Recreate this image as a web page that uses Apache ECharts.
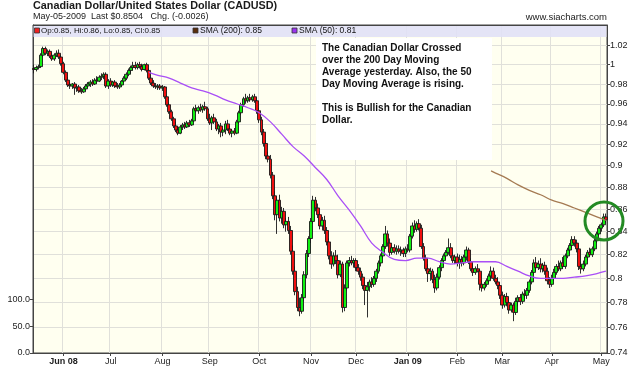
<!DOCTYPE html>
<html><head><meta charset="utf-8">
<script src="https://cdn.jsdelivr.net/npm/echarts@6/dist/echarts.min.js"></script>
<style>html,body{margin:0;padding:0;background:#fff}#c{width:640px;height:366px}</style>
</head><body><div id="c"></div>
<script>
// ---- data ----
const startDate = '2008-05-14';
const tradingDayCount = 255;
const openVals = [
0.996,0.995,0.997,0.998,1.010,1.017,1.012,1.014,1.009,1.006,
1.010,1.012,1.008,1.001,0.992,0.984,0.979,0.978,0.980,0.976,
0.977,0.973,0.972,0.975,0.978,0.980,0.982,0.980,0.984,0.983,
0.987,0.988,0.990,0.978,0.983,0.979,0.982,0.978,0.977,0.979,
0.983,0.986,0.990,0.994,0.997,0.999,0.997,1.000,0.998,0.995,
1.000,0.994,0.986,0.981,0.978,0.977,0.978,0.976,0.977,0.967,
0.959,0.952,0.945,0.938,0.934,0.931,0.937,0.939,0.937,0.941,
0.939,0.943,0.955,0.953,0.956,0.954,0.957,0.955,0.945,0.941,
0.946,0.942,0.935,0.938,0.932,0.934,0.940,0.935,0.931,0.933,
0.931,0.942,0.951,0.959,0.965,0.963,0.966,0.964,0.967,0.963,
0.953,0.944,0.932,0.921,0.909,0.906,0.891,0.872,0.855,0.868,
0.852,0.858,0.846,0.849,0.841,0.823,0.806,0.789,0.776,0.773,
0.784,0.803,0.821,0.834,0.849,0.868,0.861,0.855,0.845,0.850,
0.841,0.831,0.819,0.812,0.819,0.815,0.803,0.812,0.776,0.792,
0.813,0.815,0.813,0.815,0.809,0.806,0.801,0.794,0.790,0.793,
0.797,0.795,0.800,0.806,0.813,0.819,0.827,0.838,0.830,0.822,
0.826,0.823,0.825,0.823,0.824,0.821,0.825,0.824,0.836,0.845,
0.842,0.847,0.843,0.827,0.817,0.808,0.804,0.806,0.799,0.792,
0.801,0.809,0.815,0.819,0.822,0.826,0.819,0.815,0.818,0.813,
0.816,0.813,0.818,0.824,0.814,0.808,0.805,0.808,0.806,0.795,
0.792,0.795,0.798,0.802,0.806,0.800,0.797,0.794,0.786,0.778,
0.785,0.780,0.774,0.778,0.772,0.781,0.784,0.781,0.787,0.786,
0.790,0.797,0.805,0.813,0.809,0.812,0.808,0.811,0.806,0.798,
0.795,0.800,0.805,0.810,0.808,0.813,0.810,0.819,0.824,0.828,
0.833,0.830,0.825,0.810,0.808,0.812,0.818,0.822,0.820,0.825,
0.832,0.838,0.843,0.846,0.853];
const closeVals = [
0.995,0.997,0.998,1.010,1.017,1.012,1.014,1.009,1.006,1.010,
1.012,1.008,1.001,0.992,0.984,0.979,0.978,0.980,0.976,0.977,
0.973,0.972,0.975,0.978,0.980,0.982,0.980,0.984,0.983,0.987,
0.988,0.990,0.978,0.983,0.979,0.982,0.978,0.977,0.979,0.983,
0.986,0.990,0.994,0.997,0.999,0.997,1.000,0.998,0.995,1.000,
0.994,0.986,0.981,0.978,0.977,0.978,0.976,0.977,0.967,0.959,
0.952,0.945,0.938,0.934,0.931,0.937,0.939,0.937,0.941,0.939,
0.943,0.955,0.953,0.956,0.954,0.957,0.955,0.945,0.941,0.946,
0.942,0.935,0.938,0.932,0.934,0.940,0.935,0.931,0.933,0.931,
0.942,0.951,0.959,0.965,0.963,0.966,0.964,0.967,0.963,0.953,
0.944,0.932,0.921,0.909,0.906,0.891,0.872,0.855,0.868,0.852,
0.858,0.846,0.849,0.841,0.823,0.806,0.789,0.776,0.773,0.784,
0.803,0.821,0.834,0.849,0.868,0.861,0.855,0.845,0.850,0.841,
0.831,0.819,0.812,0.819,0.815,0.803,0.812,0.776,0.792,0.813,
0.815,0.813,0.815,0.809,0.806,0.801,0.794,0.790,0.793,0.797,
0.795,0.800,0.806,0.813,0.819,0.827,0.838,0.830,0.822,0.826,
0.823,0.825,0.823,0.824,0.821,0.825,0.824,0.836,0.845,0.842,
0.847,0.843,0.827,0.817,0.808,0.804,0.806,0.799,0.792,0.801,
0.809,0.815,0.819,0.822,0.826,0.819,0.815,0.818,0.813,0.816,
0.813,0.818,0.824,0.814,0.808,0.805,0.808,0.806,0.795,0.792,
0.795,0.798,0.802,0.806,0.800,0.797,0.794,0.786,0.778,0.785,
0.780,0.774,0.778,0.772,0.781,0.784,0.781,0.787,0.786,0.790,
0.797,0.805,0.813,0.809,0.812,0.808,0.811,0.806,0.798,0.795,
0.800,0.805,0.810,0.808,0.813,0.810,0.819,0.824,0.828,0.833,
0.830,0.825,0.810,0.808,0.812,0.818,0.822,0.820,0.825,0.832,
0.838,0.843,0.846,0.853,0.8504];
const lowVals = [
0.991,0.993,0.995,0.997,1.008,1.010,1.009,1.007,1.004,1.004,
1.008,1.006,0.999,0.990,0.982,0.977,0.975,0.975,0.969,0.972,
0.971,0.970,0.971,0.973,0.976,0.977,0.978,0.979,0.981,0.982,
0.984,0.985,0.976,0.975,0.977,0.977,0.976,0.975,0.975,0.977,
0.981,0.984,0.988,0.991,0.994,0.995,0.995,0.996,0.993,0.994,
0.992,0.984,0.979,0.976,0.975,0.974,0.974,0.973,0.965,0.957,
0.950,0.943,0.936,0.932,0.929,0.930,0.934,0.935,0.936,0.937,
0.938,0.942,0.951,0.950,0.952,0.951,0.953,0.943,0.939,0.934,
0.940,0.933,0.930,0.927,0.928,0.930,0.933,0.929,0.927,0.929,
0.930,0.940,0.949,0.957,0.960,0.961,0.962,0.962,0.961,0.950,
0.941,0.929,0.918,0.906,0.903,0.888,0.869,0.850,0.838,0.849,
0.847,0.843,0.840,0.838,0.820,0.803,0.786,0.773,0.769,0.771,
0.781,0.800,0.818,0.830,0.847,0.858,0.852,0.842,0.841,0.838,
0.828,0.816,0.808,0.810,0.812,0.800,0.801,0.772,0.773,0.790,
0.810,0.811,0.809,0.806,0.803,0.798,0.791,0.778,0.768,0.789,
0.792,0.793,0.797,0.804,0.810,0.817,0.825,0.827,0.819,0.820,
0.821,0.820,0.821,0.819,0.818,0.818,0.822,0.822,0.834,0.839,
0.840,0.841,0.825,0.815,0.806,0.797,0.798,0.796,0.788,0.790,
0.799,0.806,0.812,0.816,0.820,0.817,0.813,0.812,0.810,0.808,
0.810,0.811,0.815,0.812,0.806,0.802,0.803,0.805,0.790,0.789,
0.790,0.793,0.796,0.799,0.798,0.795,0.791,0.783,0.775,0.776,
0.777,0.771,0.772,0.765,0.770,0.777,0.778,0.779,0.783,0.783,
0.788,0.795,0.803,0.806,0.807,0.805,0.805,0.803,0.795,0.792,
0.793,0.798,0.803,0.806,0.806,0.808,0.808,0.817,0.821,0.826,
0.827,0.822,0.807,0.804,0.806,0.810,0.815,0.818,0.818,0.823,
0.830,0.836,0.840,0.844,0.848];
const highVals = [
1.000,0.999,1.000,1.012,1.019,1.019,1.016,1.016,1.012,1.012,
1.015,1.016,1.010,1.003,0.994,0.987,0.982,0.981,0.982,0.979,
0.979,0.976,0.977,0.980,0.982,0.984,0.985,0.986,0.988,0.989,
0.991,0.992,0.992,0.985,0.986,0.983,0.984,0.981,0.981,0.984,
0.988,0.992,0.996,0.999,1.003,1.003,1.002,1.003,1.001,1.001,
1.002,0.996,0.989,0.984,0.981,0.980,0.980,0.979,0.978,0.969,
0.961,0.954,0.947,0.942,0.937,0.939,0.941,0.942,0.943,0.944,
0.945,0.957,0.959,0.958,0.960,0.959,0.962,0.957,0.950,0.948,
0.950,0.945,0.940,0.941,0.936,0.943,0.944,0.938,0.935,0.936,
0.944,0.953,0.961,0.967,0.970,0.968,0.970,0.969,0.970,0.966,
0.956,0.947,0.935,0.924,0.913,0.910,0.894,0.876,0.871,0.873,
0.862,0.861,0.852,0.853,0.845,0.828,0.810,0.793,0.784,0.787,
0.806,0.824,0.836,0.852,0.872,0.871,0.865,0.858,0.853,0.854,
0.844,0.834,0.823,0.822,0.824,0.820,0.815,0.814,0.795,0.815,
0.818,0.819,0.817,0.817,0.812,0.809,0.804,0.797,0.797,0.799,
0.801,0.802,0.808,0.815,0.821,0.829,0.845,0.841,0.834,0.828,
0.829,0.828,0.828,0.827,0.826,0.827,0.829,0.838,0.848,0.850,
0.849,0.851,0.846,0.830,0.820,0.812,0.809,0.808,0.803,0.804,
0.811,0.817,0.821,0.824,0.834,0.830,0.822,0.820,0.821,0.820,
0.819,0.820,0.827,0.826,0.817,0.812,0.810,0.812,0.808,0.798,
0.797,0.800,0.804,0.810,0.809,0.803,0.801,0.796,0.789,0.787,
0.788,0.784,0.780,0.780,0.784,0.786,0.787,0.789,0.791,0.792,
0.799,0.807,0.816,0.818,0.815,0.817,0.813,0.814,0.809,0.801,
0.803,0.808,0.812,0.815,0.815,0.818,0.821,0.826,0.830,0.836,
0.836,0.833,0.828,0.814,0.815,0.820,0.824,0.826,0.827,0.834,
0.840,0.845,0.848,0.856,0.856];
// SMA readings: [trading-day index, value]
const sma50Points = [[51,0.992],[55,0.989],[60,0.986],[65,0.981],[70,0.976],[75,0.973],[80,0.969],[85,0.964],[90,0.960],[95,0.956],[100,0.951],[105,0.942],[110,0.930],[115,0.918],[120,0.909],[125,0.898],[130,0.887],[135,0.872],[140,0.859],[145,0.845],[150,0.830],[155,0.822],[160,0.816],[165,0.815],[170,0.817],[175,0.817],[180,0.814],[185,0.812],[190,0.813],[195,0.814],[200,0.814],[205,0.814],[210,0.810],[215,0.806],[220,0.802],[225,0.800],[230,0.800],[235,0.800],[240,0.801],[245,0.802],[250,0.804],[254,0.806]];
const sma200Points = [[203,0.895],[205,0.893],[210,0.888],[215,0.882],[220,0.877],[225,0.873],[230,0.868],[235,0.865],[240,0.861],[245,0.857],[250,0.853],[254,0.850]];
const priceTicks = [0.74,0.76,0.78,0.8,0.82,0.84,0.86,0.88,0.9,0.92,0.94,0.96,0.98,1,1.02];
const volumeTicks = [0,50,100];
const monthLabels = {'2008-06':'Jun 08','2008-07':'Jul','2008-08':'Aug','2008-09':'Sep','2008-10':'Oct','2008-11':'Nov','2008-12':'Dec','2009-01':'Jan 09','2009-02':'Feb','2009-03':'Mar','2009-04':'Apr','2009-05':'May'};
const boldMonths = ['2008-06','2009-01'];

// ---- build ----
function buildTradingDays(start, count){
  const out=[]; const d=new Date(start+'T00:00:00Z');
  while(out.length<count){const w=d.getUTCDay(); if(w!==0&&w!==6) out.push(d.toISOString().slice(0,10)); d.setUTCDate(d.getUTCDate()+1);}
  return out;
}
const dates = buildTradingDays(startDate, tradingDayCount);
const isMonthStart = (i) => i>0 && dates[i].slice(0,7)!==dates[i-1].slice(0,7);
const candles = dates.map((d,i)=>[openVals[i],closeVals[i],lowVals[i],highVals[i]]);
const FF = '"Liberation Sans", Arial, sans-serif';

const chart = echarts.init(document.getElementById('c'), null, {renderer:'canvas'});
chart.setOption({
  animation:false,
  backgroundColor:'#ffffff',
  grid:{left:33,right:33,top:25,bottom:13,show:true,backgroundColor:'#FFFFF0',borderColor:'#444',borderWidth:1,containLabel:false,outerBoundsMode:'none'},
  xAxis:{type:'category',data:dates,boundaryGap:true,
    axisLine:{show:true,lineStyle:{color:'#444'}},
    axisTick:{show:true,alignWithLabel:true,interval:(i)=>isMonthStart(i),length:3,lineStyle:{color:'#444'}},
    axisLabel:{interval:(i)=>isMonthStart(i),margin:4,fontSize:9,fontFamily:FF,color:'#222',
      formatter:(v)=>{const k=v.slice(0,7);const t=monthLabels[k]||'';return boldMonths.indexOf(k)>=0?'{b|'+t+'}':t;},
      rich:{b:{fontWeight:'bold',fontSize:9,fontFamily:FF,color:'#222'}}},
    splitLine:{show:true,interval:(i)=>isMonthStart(i),lineStyle:{color:'#e0e0da',width:1}}
  },
  yAxis:[
    {type:'log',logBase:10,position:'right',min:0.74,max:1.0423,
      axisLine:{show:true,lineStyle:{color:'#444'}},
      axisTick:{show:true,length:3,customValues:priceTicks,lineStyle:{color:'#444'}},
      axisLabel:{customValues:priceTicks,margin:3,fontSize:9,fontFamily:FF,color:'#222'},
      splitLine:{show:true,lineStyle:{color:'#e0e0da',width:1}}},
    {type:'value',position:'left',min:0,max:610,
      axisLine:{show:true,lineStyle:{color:'#444'}},
      axisTick:{show:true,length:3,customValues:volumeTicks,lineStyle:{color:'#444'}},
      axisLabel:{customValues:volumeTicks,margin:3,fontSize:9,fontFamily:FF,color:'#222',formatter:(v)=>Number(v).toFixed(1)},
      splitLine:{show:false}}
  ],
  series:[
    {type:'candlestick',data:candles,yAxisIndex:0,barWidth:3.4,
      itemStyle:{color:'#11f011',color0:'#f01010',borderColor:'#1a1a1a',borderColor0:'#1a1a1a',borderWidth:0.9}},
    {type:'line',data:sma50Points,yAxisIndex:0,symbol:'none',smooth:0.4,lineStyle:{color:'#a94ff6',width:1.3},z:3},
    {type:'line',data:sma200Points,yAxisIndex:0,symbol:'none',smooth:0.4,lineStyle:{color:'#a57a52',width:1.3},z:3}
  ],
  graphic:[
    {type:'rect',z:50,shape:{x:33.5,y:25.5,width:573,height:11.5},style:{fill:'rgba(224,224,246,0.88)'}},
    {type:'line',z:51,shape:{x1:33,y1:25.5,x2:607,y2:25.5},style:{stroke:'#444',lineWidth:1}},
    {type:'rect',z:52,shape:{x:34.5,y:28,width:5,height:5},style:{fill:'#ee2222',stroke:'#333',lineWidth:0.8}},
    {type:'text',z:52,x:41,y:31,style:{text:'Op:0.85, Hi:0.86, Lo:0.85, Cl:0.85',font:'8px '+FF,fill:'#111',align:'left',verticalAlign:'middle'}},
    {type:'rect',z:52,shape:{x:193,y:28,width:5,height:5},style:{fill:'#5a2d0c',stroke:'#333',lineWidth:0.8}},
    {type:'text',z:52,x:200,y:31,style:{text:'SMA (200): 0.85',font:'8.5px '+FF,fill:'#111',align:'left',verticalAlign:'middle'}},
    {type:'rect',z:52,shape:{x:292,y:28,width:5,height:5},style:{fill:'#9a33f0',stroke:'#333',lineWidth:0.8}},
    {type:'text',z:52,x:299,y:31,style:{text:'SMA (50): 0.81',font:'8.5px '+FF,fill:'#111',align:'left',verticalAlign:'middle'}},
    {type:'text',z:52,x:33,y:1,style:{text:'Canadian Dollar/United States Dollar (CADUSD)',font:'bold 10.8px '+FF,fill:'#1a1a1a',align:'left',verticalAlign:'top'}},
    {type:'text',z:52,x:33,y:12,style:{text:'May-05-2009  Last $0.8504   Chg. (-0.0026)',font:'9px '+FF,fill:'#222',align:'left',verticalAlign:'top'}},
    {type:'text',z:52,x:607,y:12,style:{text:'www.siacharts.com',font:'9.5px '+FF,fill:'#222',align:'right',verticalAlign:'top'}},
    {type:'rect',z:60,shape:{x:316,y:38,width:176,height:122},style:{fill:'#ffffff'}},
    {type:'text',z:61,x:322,y:42,style:{text:'The Canadian Dollar Crossed\nover the 200 Day Moving\nAverage yesterday. Also, the 50\nDay Moving Average is rising.\n\nThis is Bullish for the Canadian\nDollar.',font:'bold 10px '+FF,lineHeight:12,fill:'#111',align:'left',verticalAlign:'top'}},
    {type:'circle',z:70,shape:{cx:604,cy:221,r:19},style:{fill:'none',stroke:'#238a23',lineWidth:3}}
  ]
});
</script></body></html>
